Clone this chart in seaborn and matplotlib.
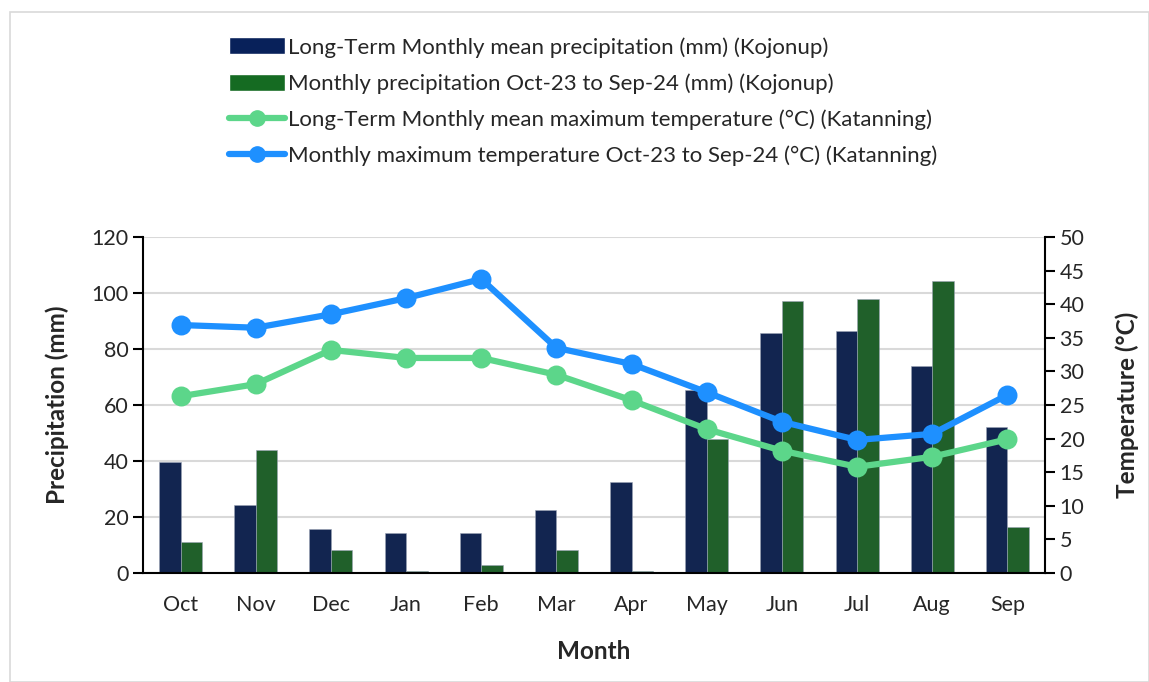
import numpy as np
import pandas as pd
import matplotlib
matplotlib.use("Agg")
import matplotlib.pyplot as plt
from matplotlib.lines import Line2D
from matplotlib.patches import Patch
import seaborn as sns

months = ["Oct", "Nov", "Dec", "Jan", "Feb", "Mar", "Apr", "May", "Jun", "Jul", "Aug", "Sep"]
lt_precip = [39.6, 24.3, 15.7, 14.3, 14.3, 22.5, 32.5, 65.4, 85.7, 86.4, 73.9, 52.1]
cur_precip = [11.1, 43.9, 8.2, 0.7, 2.9, 8.2, 0.7, 47.9, 97.1, 97.9, 104.3, 16.4]
lt_tmax = [26.3, 28.1, 33.2, 32.0, 32.0, 29.5, 25.7, 21.4, 18.2, 15.8, 17.3, 19.9]
cur_tmax = [36.9, 36.5, 38.5, 40.9, 43.75, 33.5, 31.1, 26.9, 22.5, 19.8, 20.7, 26.5]

lab_lt_p = "Long-Term Monthly mean precipitation (mm) (Kojonup)"
lab_cur_p = "Monthly precipitation Oct-23 to Sep-24 (mm) (Kojonup)"
lab_lt_t = "Long-Term Monthly mean maximum temperature (°C) (Katanning)"
lab_cur_t = "Monthly maximum temperature Oct-23 to Sep-24 (°C) (Katanning)"

c_navy = "#08215A"
c_green = "#156B22"
c_lgreen = "#5CD68A"
c_blue = "#1E90FF"

sns.set_style("white")
plt.rcParams["font.family"] = ["Lato", "DejaVu Sans"]

precip = pd.DataFrame({
    "Month": months * 2,
    "Precip": lt_precip + cur_precip,
    "Series": [lab_lt_p] * 12 + [lab_cur_p] * 12,
})

fig = plt.figure(figsize=(11.49, 6.82), dpi=100)
ax = fig.add_axes([143 / 1149, 1 - 573 / 682, (1045 - 143) / 1149, (573 - 237) / 682])

sns.barplot(data=precip, x="Month", y="Precip", hue="Series", order=months,
            palette=[c_navy, c_green], width=0.57, ax=ax, legend=False,
            edgecolor="#9aa3b5", linewidth=0.4)
ax.set_ylim(0, 120)
ax.set_yticks(range(0, 121, 20))
ax.set_xlim(-0.5, 11.5)
ax.yaxis.grid(True, color="#d9d9d9", linewidth=1.5)
ax.set_axisbelow(True)
ax.set_xticks(np.arange(-0.5, 12, 1), minor=True)
ax.tick_params(axis="x", which="major", length=0, labelsize=15.5, pad=16)
ax.tick_params(axis="x", which="minor", length=7, width=1.5, direction="out", color="black")
ax.tick_params(axis="y", length=7, width=1.5, direction="out", labelsize=15.5, color="black")
ax.set_xlabel("Month", fontsize=17.5, fontweight="bold", labelpad=18)
ax.set_ylabel("Precipitation (mm)", fontsize=17.5, fontweight="bold", labelpad=16)
for s in ["top", "right"]:
    ax.spines[s].set_visible(False)
for s in ["left", "bottom"]:
    ax.spines[s].set_color("black")
    ax.spines[s].set_linewidth(1.5)

ax2 = ax.twinx()
sns.pointplot(x=months, y=lt_tmax, ax=ax2, color=c_lgreen, markers="o",
              markersize=11, linewidth=4.5)
sns.pointplot(x=months, y=cur_tmax, ax=ax2, color=c_blue, markers="o",
              markersize=11, linewidth=4.5)
ax2.set_xlim(-0.5, 11.5)
ax2.set_ylim(0, 50)
ax2.set_yticks(range(0, 51, 5))
ax2.tick_params(axis="y", length=7, width=1.5, direction="out", labelsize=15.5, color="black")
ax2.set_ylabel("Temperature (°C)", fontsize=17.5, fontweight="bold", labelpad=22)
for s in ["top", "left", "bottom"]:
    ax2.spines[s].set_visible(False)
ax2.spines["right"].set_color("black")
ax2.spines["right"].set_linewidth(1.5)

handles = [
    Patch(facecolor=c_navy, label=lab_lt_p),
    Patch(facecolor=c_green, label=lab_cur_p),
    Line2D([], [], color=c_lgreen, lw=4.5, marker="o", markersize=11, label=lab_lt_t),
    Line2D([], [], color=c_blue, lw=4.5, marker="o", markersize=11, label=lab_cur_t),
]
fig.legend(handles=handles, loc="upper left", bbox_to_anchor=(229 / 1149, 1 - 37 / 682),
           frameon=False, fontsize=16, handlelength=2.5, handleheight=0.8,
           handletextpad=0.15, labelspacing=0.7, borderaxespad=0, borderpad=0)

fig.patches.append(plt.Rectangle((10 / 1149, 0), 1 - 10 / 1149, 1 - 12 / 682,
                                 transform=fig.transFigure, fill=False,
                                 edgecolor="#d9d9d9", linewidth=1.2))

fig.savefig("out.png", dpi=100)
